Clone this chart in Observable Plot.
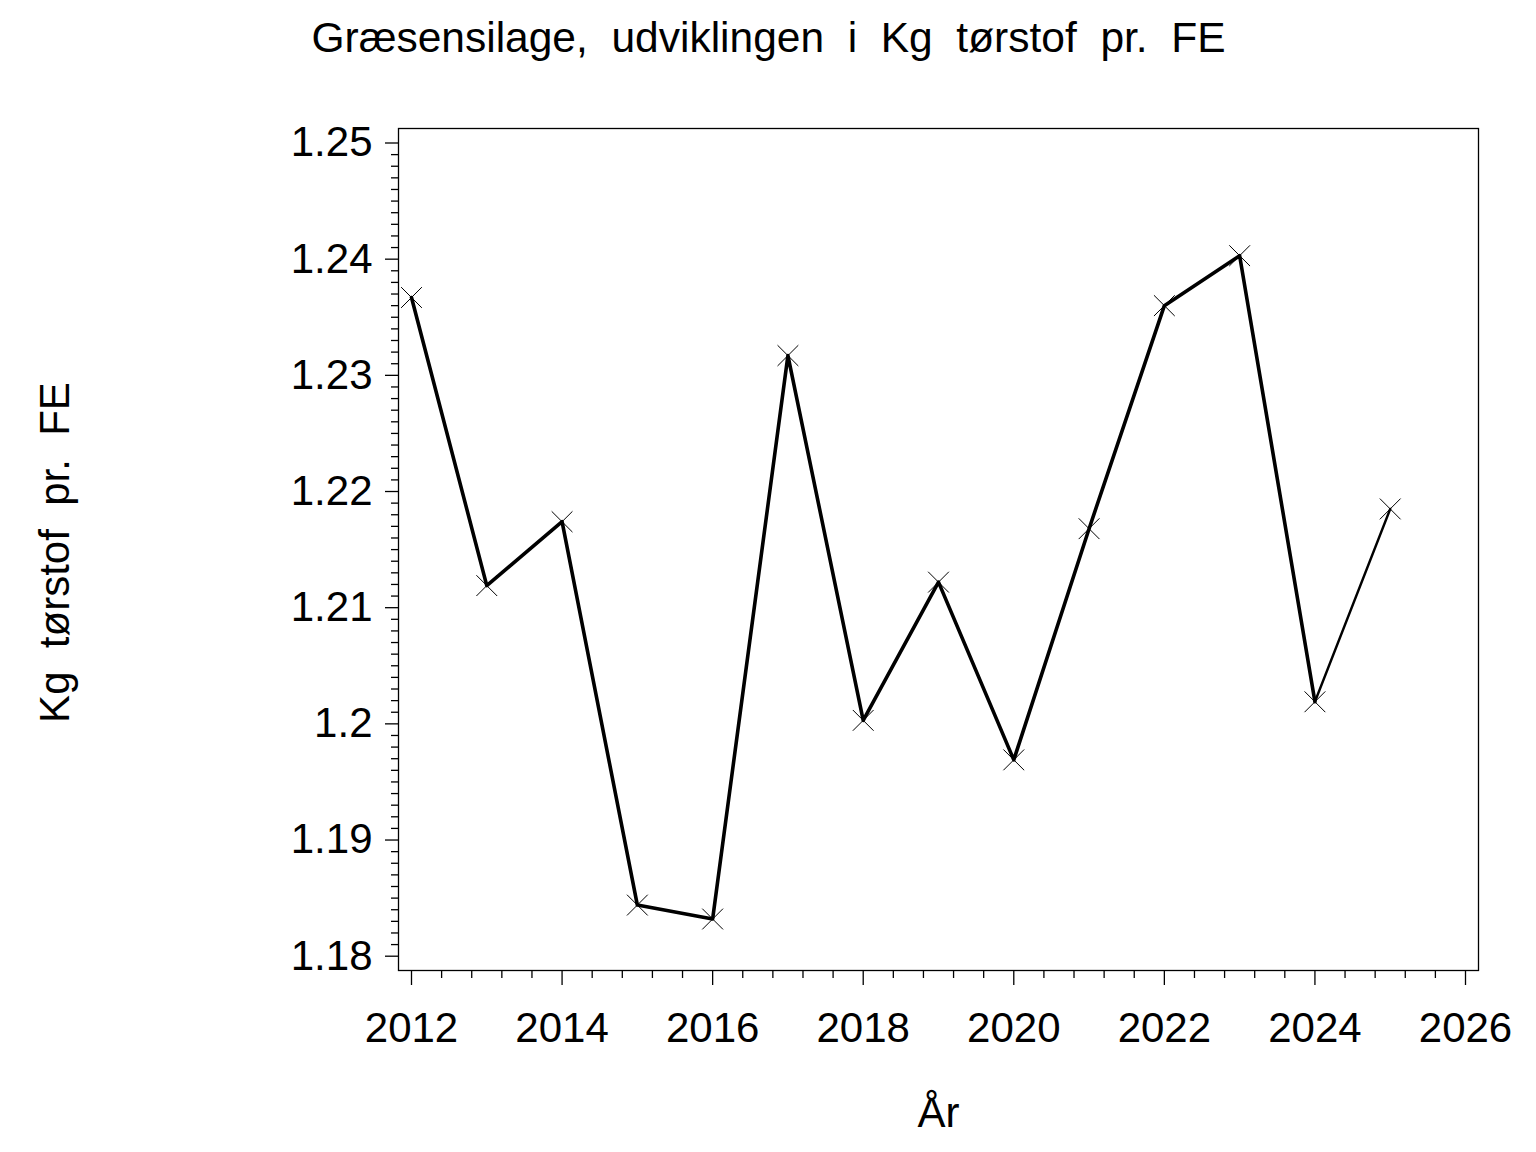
<!DOCTYPE html>
<html>
<head>
<meta charset="utf-8">
<script src="https://cdn.jsdelivr.net/npm/d3@7"></script>
<script src="https://cdn.jsdelivr.net/npm/@observablehq/plot@0.6"></script>
<style>
  html, body { margin: 0; padding: 0; background: #fff; }
  svg text { font-family: "Liberation Sans", Arial, sans-serif; }
</style>
</head>
<body>
<div id="chart"></div>
<script>
// Data
const years = [2012, 2013, 2014, 2015, 2016, 2017, 2018, 2019, 2020, 2021, 2022, 2023, 2024, 2025];
const values = [1.2367, 1.2119, 1.2174, 1.1844, 1.1832, 1.2317, 1.2003, 1.2122, 1.1969, 1.2168, 1.2360, 1.2403, 1.2019, 1.2185];

const xTicks = [2012, 2014, 2016, 2018, 2020, 2022, 2024, 2026];
const yTicks = [1.18, 1.19, 1.20, 1.21, 1.22, 1.23, 1.24, 1.25];
const yTickLabels = ["1.18", "1.19", "1.2", "1.21", "1.22", "1.23", "1.24", "1.25"];
const xMinor = d3.range(0, 35).map(i => 2012 + i * 0.4).filter(v => Math.abs(v - Math.round(v / 2) * 2) > 1e-6);
const yMinor = d3.range(0, 71).map(i => 1.18 + i * 0.001).filter((v, i) => i % 10 !== 0);

const title = "Græsensilage,  udviklingen  i  Kg  tørstof  pr.  FE";
const yLabel = "Kg  tørstof  pr.  FE";
const xLabel = "År";

const data = years.map((y, i) => ({year: y, value: values[i]}));
const mainPart = data.filter(d => d.year <= 2024);
const lastPart = data.filter(d => d.year >= 2024);

const fontSize = 42;

const chart = Plot.plot({
  width: 1536,
  height: 1152,
  marginLeft: 398,
  marginRight: 58,
  marginTop: 128,
  marginBottom: 182,
  style: {background: "#fff", color: "#000", fontFamily: "Liberation Sans, Arial, sans-serif"},
  x: {domain: [2012, 2026], insetLeft: 13, insetRight: 13},
  y: {domain: [1.18, 1.25], insetTop: 14.5, insetBottom: 14.3},
  marks: [
    Plot.frame({stroke: "#000", strokeWidth: 1.3}),
    // minor ticks
    Plot.axisX({ticks: xMinor, tickSize: 8, text: null, label: null, strokeWidth: 1.3}),
    Plot.axisY({ticks: yMinor, tickSize: 7, text: null, label: null, strokeWidth: 1.3}),
    // major ticks
    Plot.axisX({ticks: xTicks, tickSize: 15, tickPadding: 27, tickFormat: d => String(d),
      fontSize: fontSize, label: null, strokeWidth: 1.3, letterSpacing: -1.5}),
    Plot.axisY({ticks: yTicks, tickSize: 13, tickPadding: 13,
      tickFormat: d => yTickLabels[yTicks.findIndex(t => Math.abs(t - d) < 1e-9)],
      fontSize: fontSize, label: null, strokeWidth: 1.3, letterSpacing: -1.5}),
    // data
    Plot.line(mainPart, {x: "year", y: "value", stroke: "#000", strokeWidth: 3.6}),
    Plot.line(lastPart, {x: "year", y: "value", stroke: "#000", strokeWidth: 2.4}),
    Plot.dot(data, {x: "year", y: "value", symbol: "times", r: 9.5, stroke: "#000", strokeWidth: 1}),
    // texts
    Plot.text([title], {frameAnchor: "top", dx: -170, dy: -107, fontSize: 42.5, fill: "#000", letterSpacing: -1.8}),
    Plot.text([xLabel], {frameAnchor: "bottom", dy: 156, fontSize: fontSize, fill: "#000"}),
    Plot.text([yLabel], {frameAnchor: "left", textAnchor: "middle", dx: -343, dy: 3, rotate: -90, fontSize: fontSize, fill: "#000", letterSpacing: -2})
  ]
});
document.getElementById("chart").appendChild(chart);
</script>
</body>
</html>
